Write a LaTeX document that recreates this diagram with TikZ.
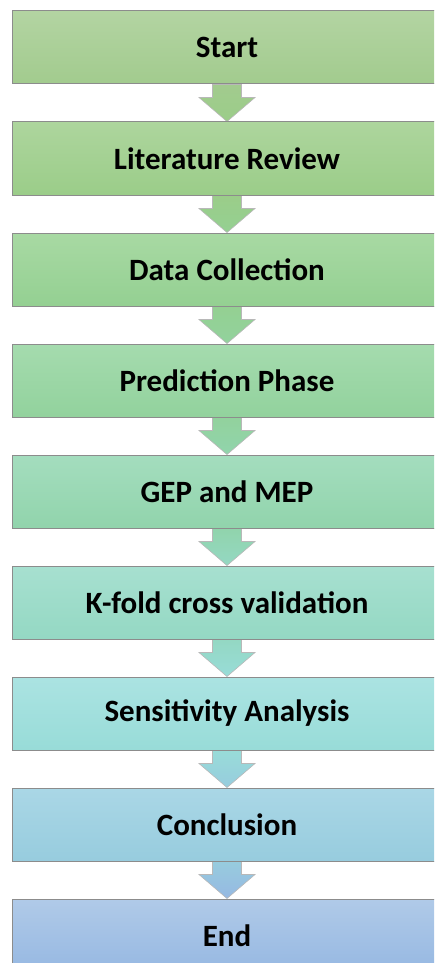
\documentclass[tikz,border=0pt]{standalone}
\usepackage{fontspec}
\setmainfont{Carlito}
\usetikzlibrary{calc,backgrounds}
\definecolor{cAt}{HTML}{B3D4A2}\definecolor{cAb}{HTML}{A2CB8E}
\definecolor{cBt}{HTML}{ADD59D}\definecolor{cBb}{HTML}{9BCD89}
\definecolor{cCt}{HTML}{A8D9A3}\definecolor{cCb}{HTML}{94D092}
\definecolor{cDt}{HTML}{A5DBAE}\definecolor{cDb}{HTML}{92D29D}
\definecolor{cEt}{HTML}{A4DDBE}\definecolor{cEb}{HTML}{91D4AC}
\definecolor{cFt}{HTML}{A7E0D0}\definecolor{cFb}{HTML}{94D8C3}
\definecolor{cGt}{HTML}{ABE3E2}\definecolor{cGb}{HTML}{98DCD8}
\definecolor{cHt}{HTML}{AAD7E6}\definecolor{cHb}{HTML}{97CCDE}
\definecolor{cIt}{HTML}{B0CAE8}\definecolor{cIb}{HTML}{96B8E2}
\newcommand\flowarrow[4]{%
  \draw[blockarrow, top color=#3, bottom color=#4]
    ($(#1.south)+(-14.5,0)$) -- ($(#1.south)+(-14.5,-13)$) -- ($(#1.south)+(-28,-13)$)
    -- (#2.north) -- ($(#1.south)+(28,-13)$) -- ($(#1.south)+(14.5,-13)$)
    -- ($(#1.south)+(14.5,0)$) -- cycle;}
\begin{document}
\begin{tikzpicture}[x=1pt,y=1pt,
  box/.style={draw=black!45, line width=1pt, minimum width=430pt, minimum height=73pt,
    inner sep=0pt, font=\fontsize{31}{37}\selectfont\bfseries, text=black},
  blockarrow/.style={draw=black!28, line width=0.6pt}]
\useasboundingbox (0,0) rectangle (434,-963);
\clip (0,0) rectangle (434,-963);
\node[box, top color=cAt, bottom color=cAb] (n1) at (227,-47.5) {Start};
\node[box, top color=cBt, bottom color=cBb] (n2) at (227,-158.5) {Literature Review};
\node[box, top color=cCt, bottom color=cCb] (n3) at (227,-269.5) {Data Collection};
\node[box, top color=cDt, bottom color=cDb] (n4) at (227,-380.5) {Prediction Phase};
\node[box, top color=cEt, bottom color=cEb] (n5) at (227,-491.5) {GEP and MEP};
\node[box, top color=cFt, bottom color=cFb] (n6) at (227,-602.5) {K-fold cross validation};
\node[box, top color=cGt, bottom color=cGb] (n7) at (227,-713.5) {Sensitivity Analysis};
\node[box, top color=cHt, bottom color=cHb] (n8) at (227,-824.5) {Conclusion};
\node[box, top color=cIt, bottom color=cIb] (n9) at (227,-935.5) {End};
\begin{scope}[on background layer]
\flowarrow{n1}{n2}{cAb}{cBb}
\flowarrow{n2}{n3}{cBb}{cCb}
\flowarrow{n3}{n4}{cCb}{cDb}
\flowarrow{n4}{n5}{cDb}{cEb}
\flowarrow{n5}{n6}{cEb}{cFb}
\flowarrow{n6}{n7}{cFb}{cGb}
\flowarrow{n7}{n8}{cGb}{cHb}
\flowarrow{n8}{n9}{cHb}{cIb}
\end{scope}
\end{tikzpicture}
\end{document}
